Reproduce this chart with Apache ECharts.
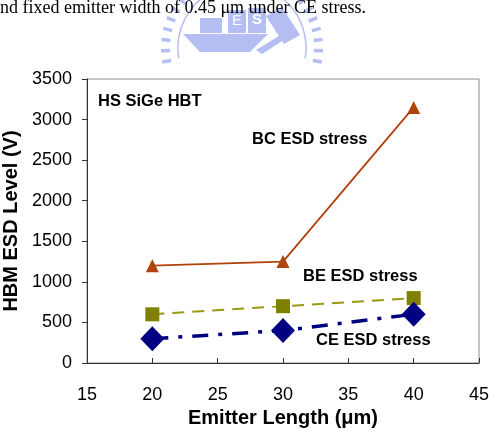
<!DOCTYPE html>
<html>
<head>
<meta charset="utf-8">
<script src="https://cdn.jsdelivr.net/npm/echarts@6/dist/echarts.min.js"></script>
<style>
  html, body { margin: 0; padding: 0; background: #fff; }
  #main { width: 495px; height: 432px; }
</style>
</head>
<body>
<div id="main"></div>
<script>
// emitter length (um)
var emitterLen = [20, 30, 40];
// HBM ESD level (V)
var bcStress = [1200, 1250, 3150];
var beStress = [600, 700, 800];
var ceStress = [300, 400, 600];

function pairs(xs, ys) {
  return xs.map(function (x, i) { return [x, ys[i]]; });
}

var chart = echarts.init(document.getElementById('main'), null, { renderer: 'canvas' });
var font = 'Liberation Sans, Arial, sans-serif';
var logoColor = '#b4bef2';

// watermark: ring of short dashes round the logo
var cx = 242, cy = 48;
var logo = [];
for (var a = -10; a <= 190; a += 8) {
  var r = a * Math.PI / 180;
  logo.push({
    type: 'line',
    shape: {
      x1: cx + 72 * Math.cos(r), y1: cy - 72 * Math.sin(r),
      x2: cx + 81 * Math.cos(r), y2: cy - 81 * Math.sin(r)
    },
    style: { stroke: logoColor, lineWidth: 3.5 }
  });
}
logo.push(
  { type: 'arc', shape: { cx: cx, cy: cy, r: 64, startAngle: Math.PI * 0.95, endAngle: Math.PI * 2.05 }, style: { stroke: logoColor, lineWidth: 1.5, fill: null } },
  { type: 'rect', shape: { x: 200, y: 18, width: 22, height: 15 }, style: { fill: logoColor } },
  { type: 'rect', shape: { x: 228, y: 10, width: 18, height: 23 }, style: { fill: logoColor } },
  { type: 'rect', shape: { x: 248, y: 8, width: 18, height: 25 }, style: { fill: logoColor } },
  { type: 'polygon', shape: { points: [[266, 16], [282, 7], [300, 35], [284, 44]] }, style: { fill: logoColor } },
  { type: 'polygon', shape: { points: [[183, 34], [268, 34], [250, 52], [200, 52]] }, style: { fill: logoColor } },
  { type: 'polygon', shape: { points: [[256, 50], [282, 34], [287, 38], [262, 54]] }, style: { fill: logoColor } },
  { type: 'text', style: { text: 'E', x: 232, y: 13, fontFamily: font, fontSize: 15, fill: '#fff' } },
  { type: 'text', style: { text: 'S', x: 252, y: 12, fontFamily: font, fontSize: 15, fontWeight: 'bold', fill: '#fff' } }
);

var option = {
  backgroundColor: '#fff',
  animation: false,
  grid: {
    left: 87, right: 16, top: 79, bottom: 69,
    outerBoundsMode: 'none',
    show: true, borderColor: '#8a8a8a', borderWidth: 1
  },
  xAxis: {
    type: 'value',
    min: 15, max: 45, interval: 5,
    name: 'Emitter Length (μm)',
    nameLocation: 'middle',
    nameGap: 40,
    nameTextStyle: { fontFamily: font, fontSize: 20, fontWeight: 'bold', color: '#000' },
    axisLine: { onZero: false, lineStyle: { color: '#333', width: 1 } },
    axisTick: { inside: true, length: 5, lineStyle: { color: '#333' } },
    axisLabel: { fontFamily: font, fontSize: 18, color: '#000', margin: 23 },
    splitLine: { show: false }
  },
  yAxis: {
    type: 'value',
    min: 0, max: 3500, interval: 500,
    name: 'HBM ESD Level (V)',
    nameLocation: 'middle',
    nameGap: 57,
    nameTextStyle: { fontFamily: font, fontSize: 20, fontWeight: 'bold', color: '#000' },
    axisLine: { show: true, onZero: false, lineStyle: { color: '#333', width: 1 } },
    axisTick: { show: true, length: 5, lineStyle: { color: '#333' } },
    axisLabel: { fontFamily: font, fontSize: 18, color: '#000', margin: 15, formatter: function (v) { return String(v); } },
    splitLine: { show: false }
  },
  graphic: [
    { type: 'group', silent: true, z: 1, children: logo },
    {
      type: 'text', left: 0, top: -1, z: 10,
      style: { text: 'nd fixed emitter width of 0.45 μm under CE stress.', fontFamily: 'Liberation Serif, Times New Roman, serif', fontSize: 18, fill: '#000' }
    },
    { type: 'text', left: 98, top: 93, style: { text: 'HS SiGe HBT', fontFamily: font, fontSize: 16.5, fontWeight: 'bold', fill: '#000' } },
    { type: 'text', left: 252, top: 131, style: { text: 'BC ESD stress', fontFamily: font, fontSize: 16.5, fontWeight: 'bold', fill: '#000' } },
    { type: 'text', left: 303, top: 268, style: { text: 'BE ESD stress', fontFamily: font, fontSize: 16.5, fontWeight: 'bold', fill: '#000' } },
    { type: 'text', left: 316, top: 332, style: { text: 'CE ESD stress', fontFamily: font, fontSize: 16.5, fontWeight: 'bold', fill: '#000' } }
  ],
  series: [
    {
      name: 'BC ESD stress',
      type: 'line',
      data: pairs(emitterLen, bcStress),
      symbol: 'triangle',
      symbolSize: 13,
      itemStyle: { color: '#b0420a' },
      lineStyle: { color: '#b0420a', width: 1.8 }
    },
    {
      name: 'BE ESD stress',
      type: 'line',
      data: pairs(emitterLen, beStress),
      symbol: 'rect',
      symbolSize: 14,
      itemStyle: { color: '#808000' },
      lineStyle: { color: '#9a9a10', width: 2, type: [12, 8] }
    },
    {
      name: 'CE ESD stress',
      type: 'line',
      data: pairs(emitterLen, ceStress),
      symbol: 'diamond',
      symbolSize: [24, 25],
      itemStyle: { color: '#000080' },
      lineStyle: { color: '#000080', width: 3.5, type: [16, 10, 4, 10] }
    }
  ]
};

chart.setOption(option);
</script>
</body>
</html>
